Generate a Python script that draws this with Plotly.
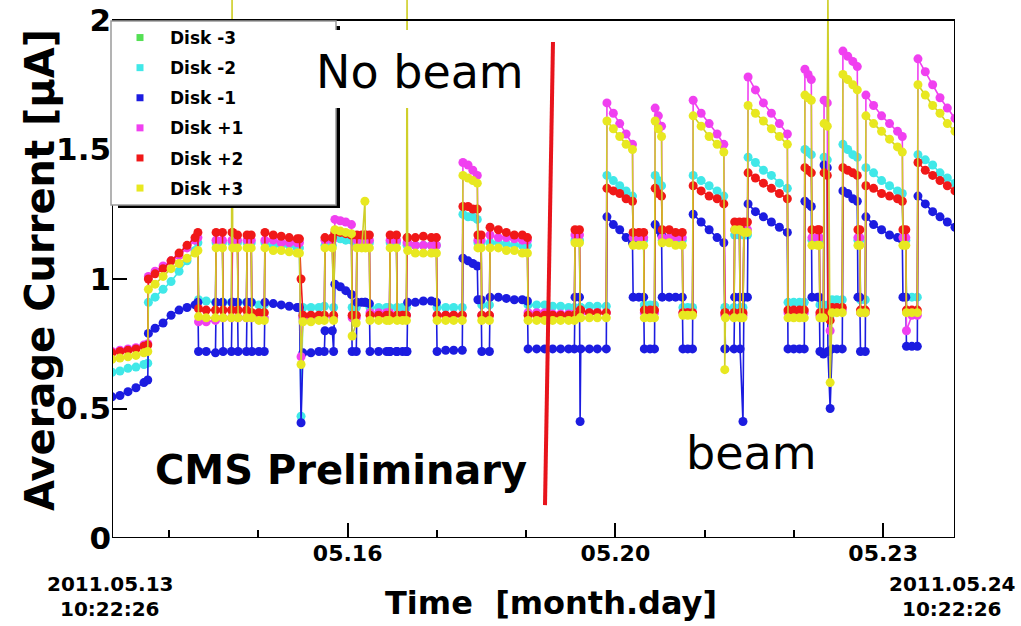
import plotly.graph_objects as go

# Time since 2011.05.13 10:22:26, in hours (the run spans 264 h)
hours = [
    0.0, 2.5, 5.0, 7.5, 10.0, 11.2,
    11.4, 13.5, 16.0, 18.5, 21.0, 23.5, 26.0, 26.9,
    27.1, 29.5, 32.4,
    32.6, 34.6,
    34.8, 37.4,
    37.6, 37.8, 39.3,
    39.5, 42.1,
    42.3, 43.6,
    43.8, 46.0, 47.7,
    47.9, 50.5, 53.0, 55.5, 58.0, 58.7,
    59.2,
    59.8, 62.3, 64.8, 66.5,
    66.7, 69.0,
    69.4,
    69.8, 71.5, 73.2, 75.0,
    75.2, 76.5,
    76.7, 78.2, 79.2, 79.4, 80.6,
    80.8, 83.5, 86.0, 86.9,
    87.1, 89.1,
    89.3, 91.0, 92.2,
    92.4, 92.6, 95.0, 97.5, 100.0, 101.6,
    101.8, 104.5, 107.0, 109.7,
    109.9, 111.5, 113.0, 114.4,
    114.6, 115.6, 115.8, 118.2,
    118.4, 121.0, 123.5, 126.0, 128.5, 130.1,
    130.3, 133.0, 135.5, 138.0, 140.5, 143.0, 144.8,
    145.0, 146.4,
    146.6, 146.8, 149.5, 152.0, 154.8,
    155.0, 157.0, 159.0, 161.0, 163.0,
    163.2, 165.0, 166.5,
    166.7, 168.5, 169.9,
    170.1, 171.1, 172.1,
    172.3, 174.5, 176.5, 178.6,
    178.8, 180.3, 181.8,
    182.0, 184.5, 187.0, 189.5, 191.6,
    191.9, 192.1, 194.8,
    195.0, 196.5,
    196.7, 197.6, 197.9, 199.0,
    199.2, 201.5, 204.0, 206.5, 209.0, 211.5,
    211.7, 213.5, 215.3, 216.8,
    217.0, 218.0, 219.0,
    219.2, 221.0, 221.5,
    221.7, 222.8,
    223.0, 224.0,
    224.2, 224.9,
    225.5, 227.0, 228.7,
    228.9, 230.4, 232.0, 233.4,
    233.6, 234.2, 234.4, 235.9,
    236.1, 238.5, 241.0, 243.5, 246.0, 247.5,
    247.7, 248.6, 248.8, 250.5, 252.2,
    252.4, 254.7, 257.0, 259.3, 261.6, 264.0,
]

# Average current per disk [uA]
disk_m2 = [
    .64, .645, .655, .66, .67, .675,
    .91, .93, .96, .99, 1.03, 1.07, 1.11, 1.14,
    .92, .915, .91,
    1.14, 1.14,
    .91, .91,
    1.14, 1.14, 1.14,
    .91, .91,
    1.14, 1.14,
    .91, .90, .90,
    1.14, 1.13, 1.13, 1.13, 1.12, 1.12,
    .47,
    .89, .89, .89, .895,
    1.13, 1.13,
    .89,
    1.16, 1.155, 1.15, 1.15,
    .89, .89,
    1.14, 1.14, 1.14, 1.14, 1.14,
    .89, .89, .89, .89,
    1.14, 1.14,
    .89, .89, .89,
    1.13, 1.13, 1.13, 1.13, 1.13, 1.13,
    .89, .89, .89, .89,
    1.25, 1.24, 1.24, 1.23,
    1.14, 1.14, .90, .90,
    1.14, 1.14, 1.135, 1.13, 1.13, 1.13,
    .90, .90, .90, .895, .895, .89, .89,
    1.15, 1.15,
    .89, .89, .895, .895, .895,
    1.40, 1.38, 1.36, 1.34, 1.32,
    1.15, 1.15, 1.15,
    .90, .90, .90,
    1.40, 1.38, 1.36,
    1.15, 1.15, 1.15, 1.15,
    .89, .89, .89,
    1.40, 1.38, 1.36, 1.34, 1.32,
    .89, .89, .89,
    1.17, 1.17,
    .89, .89, 1.17, 1.17,
    1.47, 1.45, 1.42, 1.40, 1.37, 1.35,
    .91, .91, .91, .91,
    1.50, 1.49, 1.48,
    1.15, 1.15, 1.15,
    .90, .90,
    1.47, 1.46,
    .90, .86,
    .92, .92, .92,
    1.52, 1.50, 1.48, 1.47,
    1.15, 1.15, .92, .92,
    1.43, 1.41, 1.38, 1.36, 1.34, 1.33,
    1.15, 1.15, .93, .93, .93,
    1.48, 1.46, 1.44, 1.41, 1.39, 1.37,
]

disk_m1 = [
    .545, .55, .565, .58, .60, .61,
    .79, .81, .83, .86, .88, .89, .90, .91,
    .72, .72, .715,
    .91, .91,
    .72, .72,
    .91, .91, .91,
    .72, .72,
    .91, .91,
    .72, .72, .72,
    .91, .905, .90, .895, .89, .89,
    .445,
    .715, .715, .72, .72,
    .80, .80,
    .72,
    .98, .97, .955, .94,
    .72, .72,
    .91, .91, .91, .91, .905,
    .72, .72, .72, .72,
    .72, .72,
    .72, .72, .72,
    .72, .91, .91, .915, .915, .91,
    .72, .725, .725, .725,
    1.08, 1.07, 1.06, 1.05,
    .92, .92, .72, .72,
    .93, .93, .925, .92, .92, .915,
    .73, .73, .73, .73, .73, .73, .73,
    .93, .93,
    .45, .73, .73, .73, .73,
    1.24, 1.21, 1.19, 1.16, 1.14,
    .93, .93, .93,
    .73, .73, .73,
    1.21, 1.19, 1.17,
    .93, .93, .93, .93,
    .73, .73, .73,
    1.25, 1.22, 1.19, 1.16, 1.14,
    .73, .73, .73,
    .93, .93,
    .73, .45, .93, .93,
    1.29, 1.26, 1.24, 1.22, 1.20, 1.18,
    .73, .73, .73, .73,
    1.30, 1.29, 1.28,
    .93, .93, .93,
    .72, .71,
    1.44, 1.43,
    .72, .50,
    .73, .73, .73,
    1.34, 1.33, 1.31, 1.30,
    .93, .93, .72, .72,
    1.24, 1.21, 1.19, 1.17, 1.16, 1.15,
    .93, .93, .74, .74, .74,
    1.32, 1.29, 1.26, 1.24, 1.22, 1.20,
]

disk_p1 = [
    .72, .725, .73, .735, .745, .75,
    1.01, 1.03, 1.05, 1.07, 1.09, 1.12, 1.15, 1.16,
    .835, .835, .84,
    1.15, 1.15,
    .85, .85,
    1.15, 1.15, 1.15,
    .85, .85,
    1.15, 1.15,
    .85, .85, .85,
    1.15, 1.15, 1.14, 1.14, 1.14, 1.14,
    .70,
    .85, .85, .855, .855,
    1.15, 1.15,
    .85,
    1.23, 1.225, 1.22, 1.21,
    .85, .85,
    1.15, 1.15, 1.15, 1.15, 1.15,
    .87, .87, .87, .87,
    1.15, 1.15,
    .86, .86, .86,
    1.14, 1.14, 1.13, 1.13, 1.13, 1.13,
    .86, .86, .86, .86,
    1.45, 1.44, 1.42, 1.40,
    1.15, 1.15, .86, .86,
    1.17, 1.16, 1.16, 1.155, 1.15, 1.15,
    .87, .87, .87, .865, .865, .865, .865,
    1.17, 1.17,
    .87, .87, .87, .87, .87,
    1.68, 1.64, 1.60, 1.56, 1.52,
    1.16, 1.16, 1.16,
    .87, .87, .87,
    1.66, 1.63, 1.59,
    1.16, 1.16, 1.16, 1.16,
    .87, .87, .87,
    1.69, 1.64, 1.60, 1.56, 1.52,
    .86, .86, .86,
    1.19, 1.19,
    .86, .86, 1.19, 1.19,
    1.78, 1.73, 1.68, 1.64, 1.60, 1.56,
    .87, .87, .87, .87,
    1.81, 1.79, 1.77,
    1.16, 1.16, 1.16,
    .86, .86,
    1.69, 1.68,
    .86, .80,
    .88, .88, .88,
    1.88, 1.86, 1.84, 1.82,
    1.16, 1.16, .87, .87,
    1.71, 1.67, 1.63, 1.60, 1.57, 1.55,
    1.16, 1.16, .80, .86, .86,
    1.85, 1.80, 1.75, 1.70, 1.66, 1.62,
]

disk_p2 = [
    .715, .72, .725, .73, .74, .745,
    1.00, 1.02, 1.04, 1.07, 1.10, 1.13, 1.16, 1.18,
    .885, .88, .88,
    1.18, 1.18,
    .88, .88,
    1.18, 1.18, 1.17,
    .88, .88,
    1.17, 1.17,
    .87, .87, .87,
    1.18, 1.17, 1.165, 1.16, 1.155, 1.155,
    1.00,
    .86, .86, .86, .86,
    1.16, 1.16,
    .86,
    1.18, 1.18, 1.175, 1.17,
    .86, .86,
    1.17, 1.17, 1.17, 1.17, 1.17,
    .86, .86, .86, .86,
    1.17, 1.17,
    .86, .86, .86,
    1.16, 1.16, 1.16, 1.165, 1.16, 1.16,
    .86, .86, .86, .86,
    1.28, 1.28, 1.27, 1.27,
    1.17, 1.17, .86, .86,
    1.20, 1.19, 1.18, 1.17, 1.17, 1.16,
    .86, .86, .86, .86, .86, .86, .86,
    1.19, 1.19,
    .88, .88, .87, .87, .87,
    1.35, 1.34, 1.33, 1.31, 1.30,
    1.18, 1.18, 1.18,
    .88, .88, .88,
    1.35, 1.33, 1.32,
    1.19, 1.19, 1.18, 1.18,
    .87, .87, .87,
    1.36, 1.34, 1.32, 1.31, 1.29,
    .87, .87, .87,
    1.22, 1.22,
    .87, .87, 1.22, 1.22,
    1.41, 1.39, 1.37, 1.35, 1.33, 1.31,
    .88, .88, .88, .88,
    1.43, 1.42, 1.41,
    1.19, 1.19, 1.19,
    .87, .87,
    1.41, 1.40,
    .87, .84,
    .89, .89, .89,
    1.43, 1.42, 1.41, 1.40,
    1.19, 1.19, .88, .88,
    1.36, 1.35, 1.33, 1.32, 1.31, 1.30,
    1.19, 1.19, .88, .88, .88,
    1.45, 1.42, 1.40, 1.38, 1.36, 1.34,
]

disk_p3 = [
    .69, .695, .70, .705, .715, .72,
    .96, .98, 1.01, 1.04, 1.06, 1.08, 1.10, 1.11,
    .855, .85, .85,
    1.12, 1.12,
    .85, .85,
    2.10, 1.12, 1.12,
    .85, .85,
    1.12, 1.12,
    .85, .84, .84,
    1.12, 1.11, 1.11, 1.105, 1.10, 1.10,
    .67,
    .835, .835, .84, .84,
    1.12, 1.12,
    .84,
    1.19, 1.185, 1.18, 1.175,
    .78, .83,
    1.12, 1.12, 1.30, 1.12, 1.12,
    .84, .84, .84, .84,
    1.12, 1.12,
    .84, .84, .84,
    2.10, 1.11, 1.10, 1.10, 1.10, 1.10,
    .84, .84, .84, .84,
    1.40, 1.39, 1.38, 1.37,
    1.12, 1.12, .84, .84,
    1.12, 1.12, 1.11, 1.11, 1.10, 1.10,
    .84, .84, .84, .84, .84, .84, .84,
    1.14, 1.14,
    .85, .85, .85, .85, .85,
    1.61, 1.58, 1.55, 1.52, 1.50,
    1.13, 1.13, 1.13,
    .85, .85, .85,
    1.61, 1.58, 1.55,
    1.14, 1.14, 1.13, 1.13,
    .86, .86, .86,
    1.63, 1.59, 1.55, 1.52, 1.49,
    .65, .85, .85,
    1.19, 1.19,
    .85, .85, 1.18, 1.18,
    1.67, 1.64, 1.61, 1.58, 1.55, 1.52,
    .85, .85, .85, .85,
    1.71, 1.70, 1.69,
    1.13, 1.13, 1.13,
    .85, .85,
    1.60, 1.59,
    2.10, .60,
    .87, .87, .87,
    1.79, 1.77, 1.75, 1.73,
    1.13, 1.13, .87, .87,
    1.63, 1.60, 1.57, 1.54, 1.51, 1.49,
    1.13, 1.13, .87, .87, .87,
    1.75, 1.71, 1.67, 1.64, 1.60, 1.57,
]

disk_names = ["Disk -3", "Disk -2", "Disk -1", "Disk +1", "Disk +2", "Disk +3"]
disk_colors = ["#55e055", "#40e8e8", "#1c1ce0", "#f040f0", "#f01818", "#e8e820"]

x_tick_hours = [73.8, 157.65, 241.5]
x_tick_text = ["05.16", "05.20", "05.23"]
x_minor_hours = [17.9, 45.85, 73.8, 101.75, 129.7, 157.65, 185.6, 213.55, 241.5]
y_tick_vals = [0, 0.5, 1, 1.5, 2]
y_tick_text = ["0", "0.5", "1", "1.5", "2"]

series = {
    "Disk -2": disk_m2,
    "Disk -1": disk_m1,
    "Disk +1": disk_p1,
    "Disk +2": disk_p2,
    "Disk +3": disk_p3,
}
for name, vals in series.items():
    if len(vals) != len(hours):
        raise ValueError(f"{name}: {len(vals)} values for {len(hours)} times")

W, H = 1021, 626
ML, MR, MT, MB = 112, 66, 0, 88
Y_TOP = 2 * (H - MB - MT) / (H - MB - MT - 20)   # frame top (value 2) sits 20 px below the page top

fig = go.Figure()

color_of = dict(zip(disk_names, disk_colors))
line_color_of = dict(color_of)
line_color_of["Disk +3"] = "#cfcf2a"

for name, vals in series.items():
    fig.add_trace(go.Scatter(
        x=hours, y=vals, mode="lines+markers", name=name, showlegend=False,
        line=dict(color=line_color_of[name], width=1.6),
        marker=dict(color=color_of[name], size=9, line=dict(width=0)),
    ))

# legend entries: marker squares only, one group each so the group gap spaces them
for name in disk_names:
    fig.add_trace(go.Scatter(
        x=[None], y=[None], mode="markers", name=name, legendgroup=name,
        marker=dict(symbol="square", size=7, color=color_of[name]),
    ))

bold = dict(family="DejaVu Sans", color="black", weight="bold")


def px_x(px):
    return (px - ML) / (W - ML - MR)


def px_y(py):
    return (H - MB - py) / (H - MB - MT)


shapes = [
    # plot frame
    dict(type="rect", xref="x", yref="y", x0=0, x1=264, y0=0, y1=2,
         line=dict(color="black", width=2), layer="above"),
    # legend shadow
    dict(type="rect", xref="paper", yref="paper", x0=px_x(335), x1=px_x(340),
         y0=px_y(208), y1=px_y(26), fillcolor="black", line=dict(width=0), layer="above"),
    dict(type="rect", xref="paper", yref="paper", x0=px_x(118), x1=px_x(340),
         y0=px_y(208), y1=px_y(203), fillcolor="black", line=dict(width=0), layer="above"),
    # legend box
    dict(type="rect", xref="paper", yref="paper", x0=px_x(111), x1=px_x(336),
         y0=px_y(205), y1=px_y(21), fillcolor="white",
         line=dict(color="#9a9a9a", width=1.5), layer="above"),
    # white box behind the "No beam" label
    dict(type="rect", xref="paper", yref="paper", x0=px_x(300), x1=px_x(540),
         y0=px_y(108), y1=px_y(30), fillcolor="white", line=dict(width=0), layer="above"),
    # boundary between the no-beam and beam periods
    dict(type="line", xref="x", yref="y", x0=138.1, y0=1.915, x1=135.6, y1=0.127,
         line=dict(color="#e8141c", width=4), layer="above"),
]

annotations = [
    dict(text="No beam", x=px_x(420), y=px_y(72),
         font=dict(family="DejaVu Sans", size=46, color="black")),
    dict(text="beam", x=px_x(751), y=px_y(453),
         font=dict(family="DejaVu Sans", size=46, color="black")),
    dict(text="CMS Preliminary", x=px_x(341), y=px_y(470), font=dict(bold, size=40)),
    dict(text="Average Current [µA]", x=px_x(40), y=px_y(270), textangle=-90,
         font=dict(bold, size=40)),
    dict(text="Time\u00a0 [month.day]", x=px_x(551), y=px_y(603), font=dict(bold, size=32)),
    dict(text="2011.05.13", x=px_x(110), y=px_y(584), font=dict(bold, size=20)),
    dict(text="10:22:26", x=px_x(110), y=px_y(609), font=dict(bold, size=20)),
    dict(text="2011.05.24", x=px_x(952), y=px_y(584), font=dict(bold, size=20)),
    dict(text="10:22:26", x=px_x(952), y=px_y(609), font=dict(bold, size=20)),
]
for a in annotations:
    a.update(xref="paper", yref="paper", xanchor="center", yanchor="middle",
             showarrow=False, borderpad=0)

fig.update_layout(
    width=W, height=H,
    margin=dict(l=ML, r=MR, t=MT, b=MB, pad=0),
    paper_bgcolor="white", plot_bgcolor="white",
    showlegend=True,
    legend=dict(
        x=px_x(110), y=px_y(20), xanchor="left", yanchor="top",
        bgcolor="rgba(0,0,0,0)", borderwidth=0, itemwidth=50,
        tracegroupgap=5, traceorder="grouped",
        font=dict(family="DejaVu Sans", size=17, color="black", weight="bold"),
    ),
    xaxis=dict(
        range=[0, 264], showgrid=False, zeroline=False, showline=False,
        tickmode="array", tickvals=x_tick_hours, ticktext=x_tick_text,
        ticks="inside", ticklen=15, tickwidth=2, tickcolor="black",
        tickfont=dict(bold, size=22),
        minor=dict(tickmode="array", tickvals=x_minor_hours, ticks="inside",
                   ticklen=8, tickwidth=2, tickcolor="black", showgrid=False),
    ),
    yaxis=dict(
        range=[0, Y_TOP], showgrid=False, zeroline=False, showline=False,
        tickmode="array", tickvals=y_tick_vals, ticktext=y_tick_text,
        ticks="inside", ticklen=15, tickwidth=2, tickcolor="black",
        tickfont=dict(bold, size=31),
    ),
    shapes=shapes,
    annotations=annotations,
)

fig.write_html("out.html")
